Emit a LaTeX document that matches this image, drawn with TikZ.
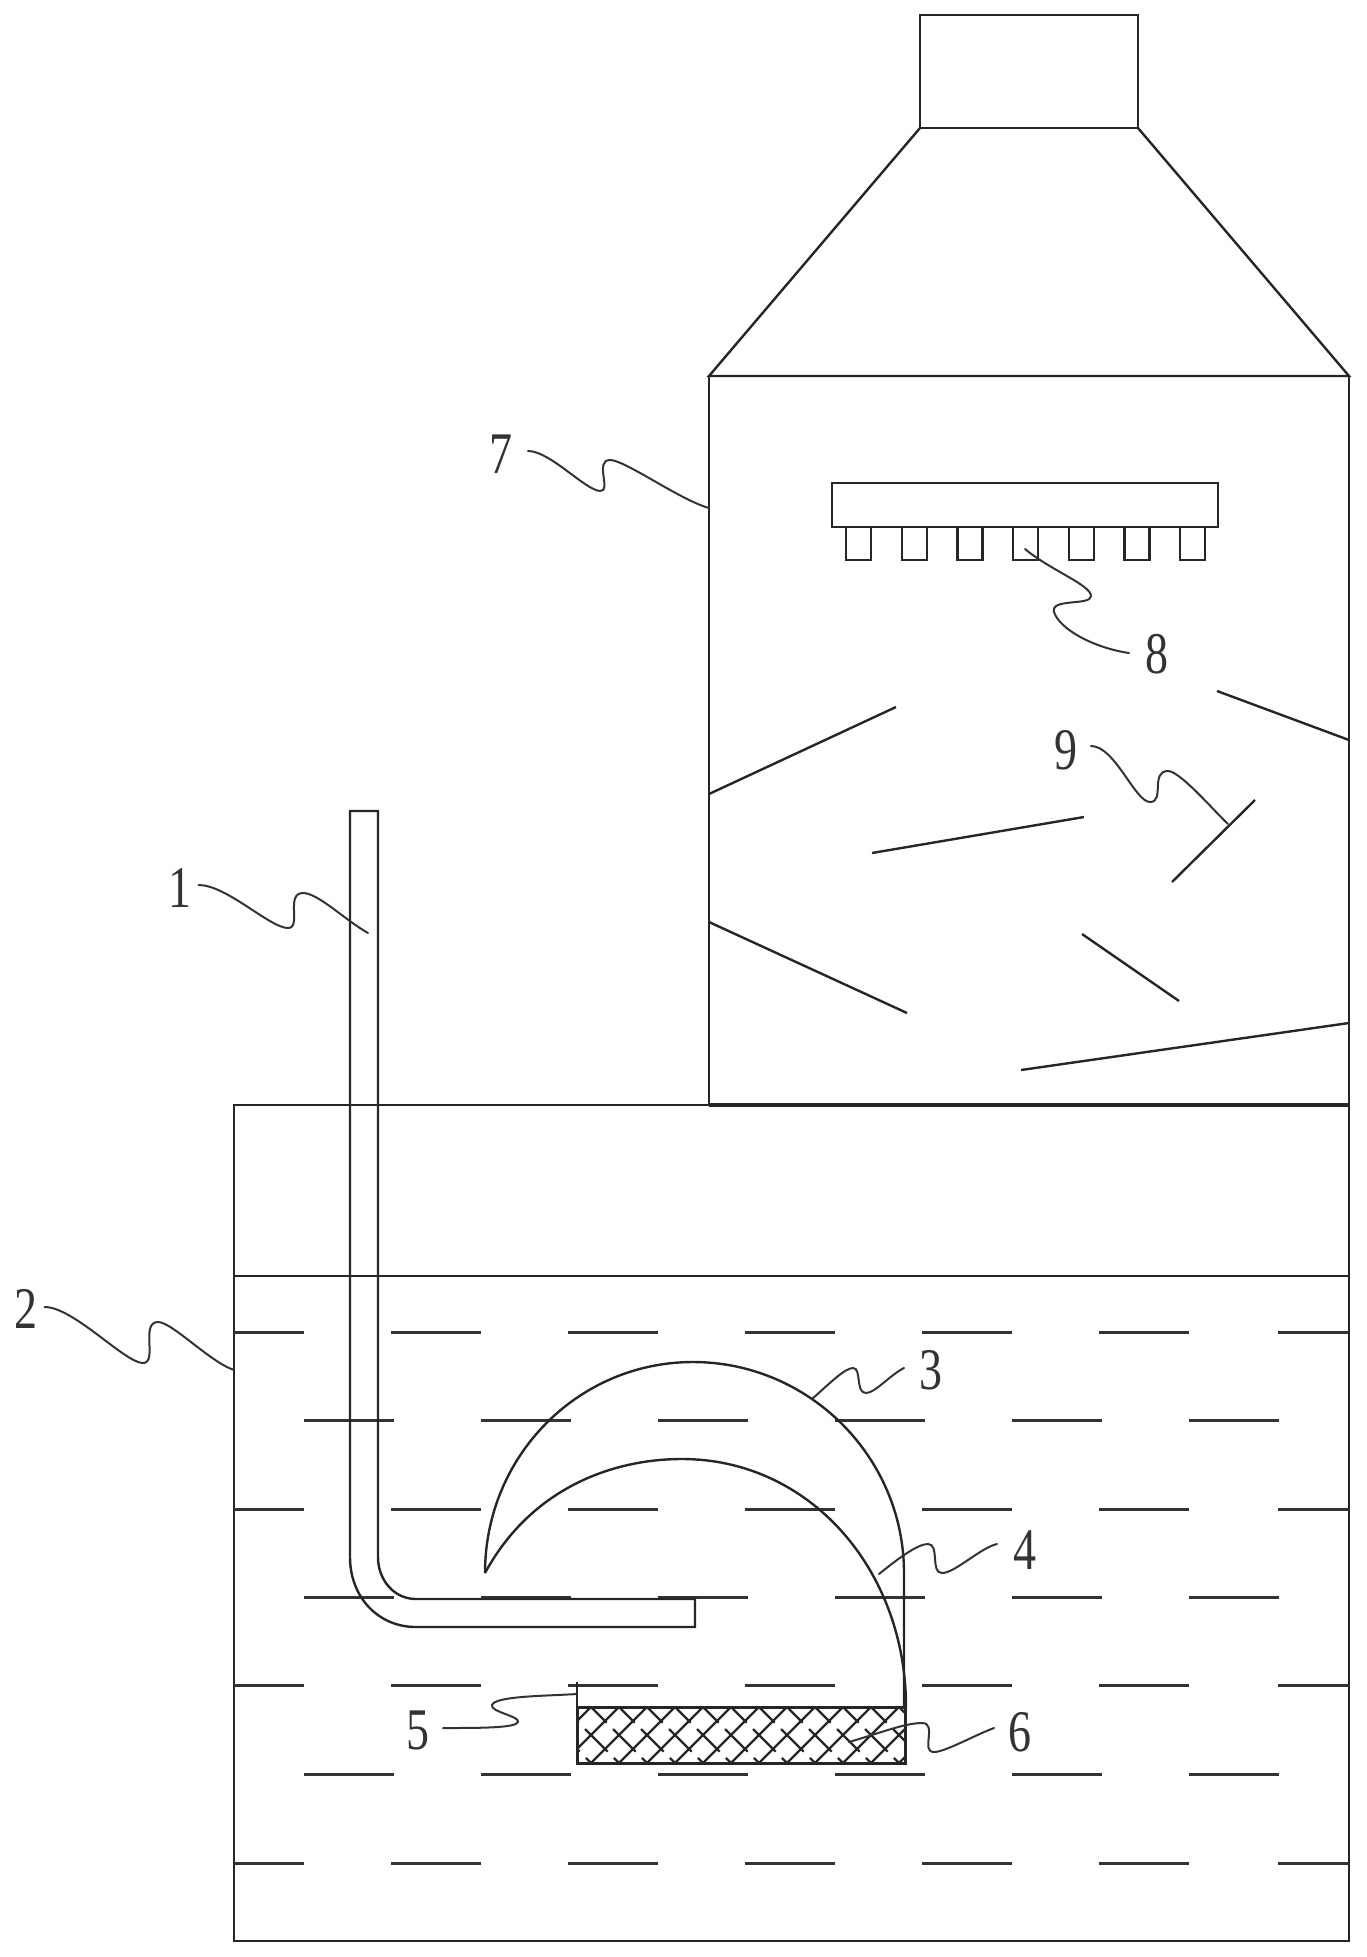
\documentclass[tikz,border=0pt]{standalone}
\usepackage{fontspec}
\setmainfont{Liberation Serif}
\usepackage{tikz}

\tikzset{
    wall/.style={draw=black!85, line width=2.4pt, line join=miter},
    leader/.style={draw=black!80, line width=2pt, line cap=round},
    tag/.style={inner sep=0pt, text=black!80, xscale=0.78, font=\fontsize{59}{59}\selectfont},
    water/.style={draw=black!80, line width=3pt},
    hatchline/.style={draw=black!85, line width=2.4pt}
}

\begin{document}
\begin{tikzpicture}[x=1pt, y=-1pt]
    \useasboundingbox (0,0) rectangle (1367,1957);

    % tower
    \draw[wall] (920,15) rectangle (1138,128);
    \draw[wall] (920,128) -- (709,376) -- (1349,376) -- (1138,128);
    \draw[wall] (709,376) rectangle (1349,1105);
    \draw[wall] (832,483) rectangle (1218,527);
    \foreach \i in {0,...,6}
        \draw[wall] (846+55.7*\i,527) rectangle (871+55.7*\i,560);

    % baffles
    \draw[wall] (709,794) -- (896,707);
    \draw[wall] (1217,691) -- (1349,740);
    \draw[wall] (872,853) -- (1084,817);
    \draw[wall] (1172,882) -- (1255,800);
    \draw[wall] (709,922) -- (907,1013);
    \draw[wall] (1082,934) -- (1179,1001);
    \draw[wall] (1021,1070) -- (1349,1023);

    % tank and water
    \draw[wall] (234,1105) rectangle (1349,1941);
    \draw[wall, line width=3.4pt] (709,1105) -- (1349,1105);
    \draw[wall] (234,1276) -- (1349,1276);
    \foreach \y in {1332,1509,1685,1863}{
        \draw[water] (234,\y) -- (304,\y);
        \foreach \i in {1,...,5}
            \draw[water] (214+177*\i,\y) -- (304+177*\i,\y);
        \draw[water] (1278,\y) -- (1349,\y);
    }
    \foreach \y in {1420,1597,1774}
        \foreach \i in {0,...,5}
            \draw[water] (304+177*\i,\y) -- (394+177*\i,\y);

    % pipe
    \draw[wall] (416,1599) -- (695,1599) -- (695,1627) -- (416,1627)
        .. controls (378,1627) and (350,1597) .. (350,1557) -- (350,811)
        -- (378,811) -- (378,1557) .. controls (378,1580) and (394,1599) .. (416,1599);

    % hood
    \draw[wall] (485,1573) .. controls (485,1456) and (578,1362) .. (693,1362)
        .. controls (809,1362) and (904,1457) .. (904,1573) -- (904,1707);
    \draw[wall] (485,1573) .. controls (530,1490) and (610,1459) .. (682,1459)
        .. controls (810,1459) and (906,1570) .. (906,1707);

    % filter
    \begin{scope}
        \clip (577,1707) rectangle (905,1763);
        \foreach \i in {0,...,15}
            \draw[hatchline] (500+28*\i,1770) -- (570+28*\i,1700);
        \foreach \i in {0,...,15}
            \draw[hatchline, dash pattern=on 32pt off 9pt] (500+28*\i,1700) -- (570+28*\i,1770);
    \end{scope}
    \draw[draw=black!85, line width=3pt] (577,1707) rectangle (905,1763);
    \draw[wall] (577,1682) -- (577,1707);

    % labels
    \node[tag] (lab1) at (180,888) {1};
    \node[tag] (lab2) at (26,1309) {2};
    \node[tag] (lab3) at (931,1370) {3};
    \node[tag] (lab4) at (1025,1550) {4};
    \node[tag] (lab5) at (418,1730) {5};
    \node[tag] (lab6) at (1020,1732) {6};
    \node[tag] (lab7) at (501,454) {7};
    \node[tag] (lab8) at (1157,654) {8};
    \node[tag] (lab9) at (1066,750) {9};

    % leaders
    \coordinate (end1) at (368,933);
    \coordinate (end2) at (234,1370);
    \coordinate (end3) at (812,1399);
    \coordinate (end4) at (879,1574);
    \coordinate (end5) at (577,1694);
    \coordinate (end6) at (849,1742);
    \coordinate (end7) at (709,508);
    \coordinate (end8) at (1025,549);
    \coordinate (end9) at (1228,824);

    \draw[leader] (lab1.east) ++(7,-3) .. controls +(28,0) and (270,928) .. (288,928)
        .. controls (302,928) and (285,893) .. (303,893)
        .. controls (318,893) and (345,920) .. (end1);
    \draw[leader] (lab2.east) ++(7,-2) .. controls +(29,0) and (125,1363) .. (143,1363)
        .. controls (158,1363) and (140,1322) .. (158,1322)
        .. controls (172,1322) and (210,1362) .. (end2);
    \draw[leader] (end3) .. controls (830,1383) and (845,1368) .. (853,1368)
        .. controls (862,1368) and (855,1393) .. (866,1393)
        .. controls (875,1393) and (890,1375) .. (904,1368);
    \draw[leader] (end4) .. controls (900,1557) and (918,1544) .. (928,1544)
        .. controls (940,1544) and (930,1573) .. (942,1573)
        .. controls (955,1573) and (980,1548) .. (997,1544);
    \draw[leader] (end5) .. controls (545,1696) and (495,1696) .. (492,1705)
        .. controls (490,1712) and (520,1716) .. (518,1722)
        .. controls (516,1728) and (480,1728) .. (443,1728);
    \draw[leader] (end6) .. controls (880,1733) and (905,1723) .. (922,1723)
        .. controls (938,1723) and (920,1752) .. (934,1752)
        .. controls (945,1752) and (975,1735) .. (994,1728);
    \draw[leader] (528,451) .. controls (550,451) and (585,490) .. (600,491)
        .. controls (612,492) and (594,460) .. (610,460)
        .. controls (625,460) and (680,500) .. (end7);
    \draw[leader] (end8) .. controls (1050,570) and (1091,585) .. (1091,596)
        .. controls (1091,606) and (1050,598) .. (1054,612)
        .. controls (1060,630) and (1095,648) .. (1129,653);
    \draw[leader] (1091,746) .. controls (1115,746) and (1135,802) .. (1150,802)
        .. controls (1165,802) and (1150,771) .. (1168,771)
        .. controls (1180,771) and (1215,812) .. (end9);
\end{tikzpicture}
\end{document}
